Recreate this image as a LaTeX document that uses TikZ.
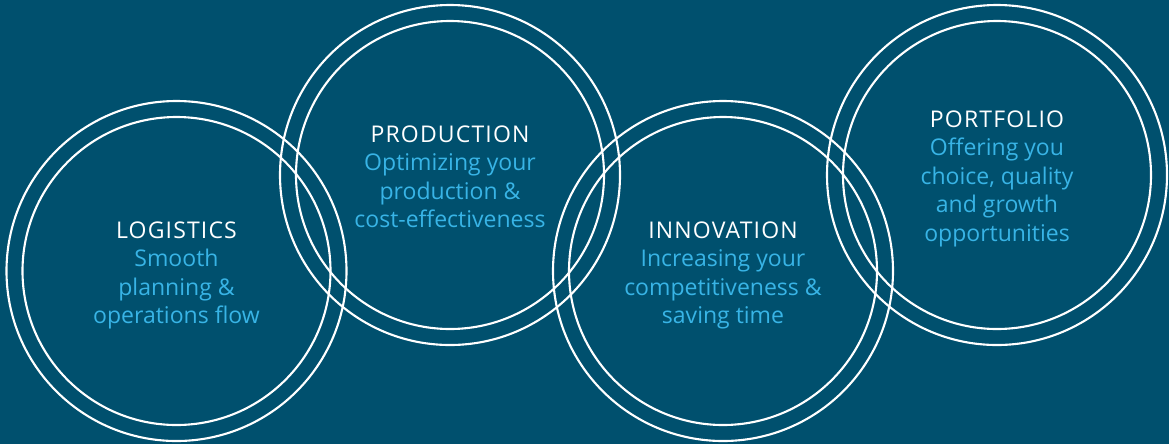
\documentclass[tikz,border=0pt]{standalone}
\usepackage{fontspec}
\setmainfont{Open Sans}
\newfontfamily\headfont[LetterSpace=5]{Open Sans}
\definecolor{bgteal}{HTML}{00506E}
\definecolor{skyblue}{HTML}{38B4E6}
\tikzset{
  ring/.style={draw=white, line width=0.6pt},
  blurb/.style={anchor=base, align=center, text=skyblue, inner sep=0pt,
    font=\fontsize{6.55pt}{8.1pt}\selectfont},
}
\newcommand{\headline}[1]{{\headfont\color{white}#1}}
\begin{document}
\begin{tikzpicture}
    \fill[bgteal] (0,0) rectangle (11.69,-4.44);
    \coordinate (log) at (1.765,-2.71);
    \coordinate (prod) at (4.50,-1.75);
    \coordinate (inno) at (7.23,-2.71);
    \coordinate (port) at (9.97,-1.75);
    \draw[ring] (log) circle (1.70) (log) circle (1.54);
    \draw[ring] (prod) circle (1.70) (prod) circle (1.54);
    \draw[ring] (inno) circle (1.70) (inno) circle (1.54);
    \draw[ring] (port) circle (1.70) (port) circle (1.54);
    \node[blurb] (log text) at ([yshift=-5.25mm]log) {\headline{LOGISTICS}\\Smooth\\planning \&\\operations flow};
    \node[blurb] (prod text) at ([yshift=-5.25mm]prod) {\headline{PRODUCTION}\\Optimizing your\\production \&\\cost-effectiveness};
    \node[blurb] (inno text) at ([yshift=-5.25mm]inno) {\headline{INNOVATION}\\Increasing your\\competitiveness \&\\saving time};
    \node[blurb] (port text) at ([yshift=-6.6mm]port) {\headline{PORTFOLIO}\\Offering you\\choice, quality\\and growth\\opportunities};
\end{tikzpicture}
\end{document}
